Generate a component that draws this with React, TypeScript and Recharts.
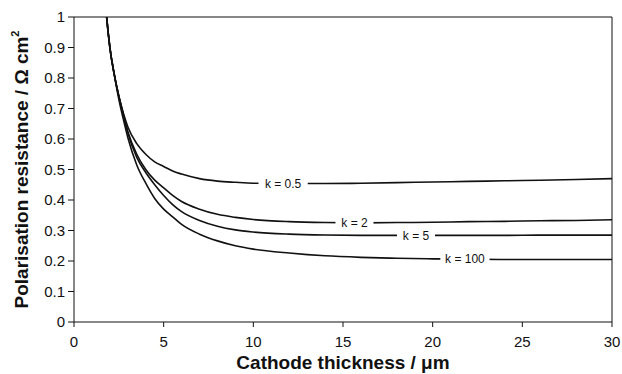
import {
  ComposedChart,
  Line,
  Scatter,
  XAxis,
  YAxis,
  ReferenceLine,
} from 'recharts';

const thickness = [1.5, 1.75, 2, 2.25, 2.5, 2.75, 3, 3.5, 4, 4.5, 5, 5.5, 6, 7, 8, 9, 10, 12, 14, 16, 18, 20, 22, 24, 26, 28, 30];

const k05 = [1.3, 1.05, 0.9, 0.81, 0.74, 0.685, 0.64, 0.585, 0.55, 0.525, 0.51, 0.495, 0.485, 0.47, 0.462, 0.458, 0.455, 0.454, 0.454, 0.455, 0.457, 0.459, 0.461, 0.463, 0.465, 0.467, 0.47];
const k2 = [1.3, 1.05, 0.9, 0.81, 0.74, 0.68, 0.625, 0.55, 0.5, 0.465, 0.44, 0.415, 0.395, 0.37, 0.353, 0.343, 0.336, 0.329, 0.326, 0.325, 0.326, 0.327, 0.329, 0.33, 0.332, 0.333, 0.335];
const k5 = [1.3, 1.05, 0.9, 0.81, 0.74, 0.68, 0.62, 0.54, 0.49, 0.45, 0.415, 0.385, 0.362, 0.333, 0.314, 0.302, 0.295, 0.288, 0.285, 0.284, 0.284, 0.284, 0.284, 0.284, 0.285, 0.285, 0.285];
const k100 = [1.3, 1.05, 0.9, 0.81, 0.73, 0.665, 0.605, 0.515, 0.455, 0.405, 0.37, 0.345, 0.32, 0.288, 0.266, 0.25, 0.239, 0.226, 0.217, 0.212, 0.209, 0.207, 0.206, 0.205, 0.205, 0.205, 0.205];

const labelText = ['k = 0.5', 'k = 2', 'k = 5', 'k = 100'];
const labelX = [11.66, 15.64, 19.07, 21.8];
const labelY = [0.454, 0.326, 0.284, 0.206];

const xTicks = [0, 5, 10, 15, 20, 25, 30];
const yTicks = [0, 0.1, 0.2, 0.3, 0.4, 0.5, 0.6, 0.7, 0.8, 0.9, 1];

const toSeries = (ys: number[]) => thickness.map((x, i) => ({ x, y: ys[i] }));
const series = [k05, k2, k5, k100].map(toSeries);
const labels = labelText.map((text, i) => ({ x: labelX[i], y: labelY[i], text }));

const FONT = '"Liberation Sans", Arial, sans-serif';

const CurveLabel = (props: any) => {
  const { cx, cy, payload } = props;
  const w = payload.text.length * 5.6 + 10;
  return (
    <g>
      <rect x={cx - w / 2} y={cy - 7} width={w} height={14} fill="#fff" />
      <text x={cx} y={cy} dy="0.35em" textAnchor="middle" fontSize={12} fontFamily={FONT} fill="#111">
        {payload.text}
      </text>
    </g>
  );
};

const YTitle = (props: any) => {
  const { viewBox } = props;
  const cx = viewBox.x + 21;
  const cy = viewBox.y + viewBox.height / 2;
  return (
    <text
      x={cx}
      y={cy}
      dy="0.35em"
      transform={`rotate(-90 ${cx} ${cy})`}
      textAnchor="middle"
      fontSize={19}
      fontWeight="bold"
      fontFamily={FONT}
      fill="#111"
    >
      Polarisation resistance / Ω cm
      <tspan fontSize={11} dy="-0.8em">2</tspan>
    </text>
  );
};

const XTitle = (props: any) => {
  const { viewBox } = props;
  return (
    <text
      x={viewBox.x + viewBox.width / 2}
      y={viewBox.y + 40}
      dy="0.35em"
      textAnchor="middle"
      fontSize={19}
      fontWeight="bold"
      fontFamily={FONT}
      fill="#111"
    >
      Cathode thickness / μm
    </text>
  );
};

export default function App() {
  return (
    <div style={{ position: 'absolute', left: 0, top: 0, background: '#fff' }}>
      <ComposedChart width={622} height={374} margin={{ top: 17, right: 10, bottom: 0, left: 0 }}>
        <XAxis
          type="number"
          dataKey="x"
          domain={[0, 30]}
          ticks={xTicks}
          height={52}
          stroke="#111"
          tickSize={5}
          tickMargin={9}
          tick={{ fill: '#111', fontSize: 15, fontFamily: FONT }}
          label={<XTitle />}
        />
        <YAxis
          type="number"
          dataKey="y"
          domain={[0, 1]}
          allowDataOverflow
          ticks={yTicks}
          width={74}
          stroke="#111"
          tickSize={6}
          tickMargin={3}
          tickFormatter={(v: number) => String(Math.round(v * 10) / 10)}
          tick={{ fill: '#111', fontSize: 15, fontFamily: FONT }}
          label={<YTitle />}
        />
        <ReferenceLine y={1} stroke="#111" />
        <ReferenceLine x={30} stroke="#111" />
        {series.map((d, i) => (
          <Line
            key={labelText[i]}
            data={d}
            dataKey="y"
            type="monotone"
            stroke="#111"
            strokeWidth={1.6}
            dot={false}
            isAnimationActive={false}
          />
        ))}
        <Scatter data={labels} dataKey="y" shape={CurveLabel} isAnimationActive={false} />
      </ComposedChart>
    </div>
  );
}
